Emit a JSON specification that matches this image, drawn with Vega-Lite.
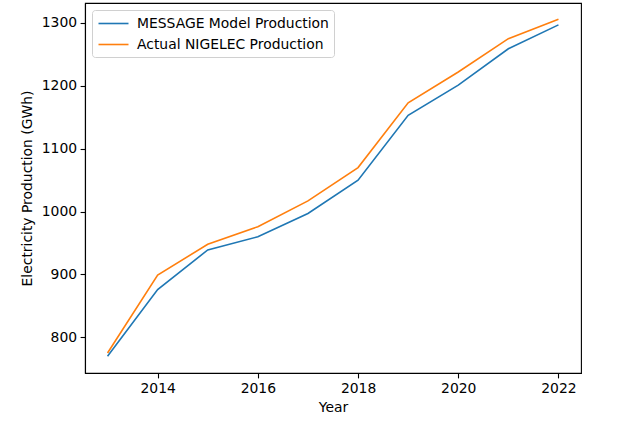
{
  "$schema": "https://vega.github.io/schema/vega-lite/v6.json",
  "width": 496,
  "height": 370,
  "autosize": {"type": "none"},
  "padding": {"left": 85, "top": 3, "right": 46, "bottom": 53},
  "background": "white",
  "config": {
    "font": "DejaVu Sans",
    "view": {"stroke": "black", "strokeWidth": 1.1},
    "axis": {
      "grid": false,
      "domainColor": "black",
      "domainWidth": 1.1,
      "tickColor": "black",
      "tickWidth": 1.1,
      "tickSize": 4.9,
      "labelPadding": 3.5,
      "labelFont": "DejaVu Sans",
      "labelFontSize": 13.9,
      "labelColor": "black",
      "titleFont": "DejaVu Sans",
      "titleFontSize": 13.9,
      "titleFontWeight": "normal",
      "titleColor": "black"
    }
  },
  "data": {
    "values": [
      {"year": 2013, "series": "MESSAGE Model Production", "value": 770},
      {"year": 2014, "series": "MESSAGE Model Production", "value": 876},
      {"year": 2015, "series": "MESSAGE Model Production", "value": 939},
      {"year": 2016, "series": "MESSAGE Model Production", "value": 960},
      {"year": 2017, "series": "MESSAGE Model Production", "value": 997},
      {"year": 2018, "series": "MESSAGE Model Production", "value": 1050},
      {"year": 2019, "series": "MESSAGE Model Production", "value": 1153},
      {"year": 2020, "series": "MESSAGE Model Production", "value": 1201},
      {"year": 2021, "series": "MESSAGE Model Production", "value": 1259},
      {"year": 2022, "series": "MESSAGE Model Production", "value": 1297},
      {"year": 2013, "series": "Actual NIGELEC Production", "value": 775},
      {"year": 2014, "series": "Actual NIGELEC Production", "value": 899},
      {"year": 2015, "series": "Actual NIGELEC Production", "value": 948},
      {"year": 2016, "series": "Actual NIGELEC Production", "value": 976},
      {"year": 2017, "series": "Actual NIGELEC Production", "value": 1017},
      {"year": 2018, "series": "Actual NIGELEC Production", "value": 1070},
      {"year": 2019, "series": "Actual NIGELEC Production", "value": 1173},
      {"year": 2020, "series": "Actual NIGELEC Production", "value": 1222},
      {"year": 2021, "series": "Actual NIGELEC Production", "value": 1275},
      {"year": 2022, "series": "Actual NIGELEC Production", "value": 1306}
    ]
  },
  "mark": {"type": "line", "strokeWidth": 1.6, "clip": true},
  "encoding": {
    "x": {
      "field": "year",
      "type": "quantitative",
      "title": "Year",
      "scale": {"domain": [2012.55, 2022.45], "nice": false, "zero": false},
      "axis": {"values": [2014, 2016, 2018, 2020, 2022], "format": "d", "titlePadding": 5}
    },
    "y": {
      "field": "value",
      "type": "quantitative",
      "title": "Electricity Production (GWh)",
      "scale": {"domain": [743.25, 1331.75], "nice": false, "zero": false},
      "axis": {"values": [800, 900, 1000, 1100, 1200, 1300], "format": "d", "titlePadding": 7}
    },
    "color": {
      "field": "series",
      "type": "nominal",
      "scale": {
        "domain": ["MESSAGE Model Production", "Actual NIGELEC Production"],
        "range": ["#1f77b4", "#ff7f0e"]
      },
      "legend": {
        "title": null,
        "orient": "none",
        "legendX": 7,
        "legendY": 7,
        "symbolType": "M-2,0H2",
        "symbolSize": 225,
        "symbolOffset": 8,
        "symbolStrokeWidth": 1.6,
        "labelFont": "DejaVu Sans",
        "labelFontSize": 13.9,
        "labelColor": "black",
        "labelLimit": 0,
        "labelOffset": 15,
        "rowPadding": 5,
        "padding": 5,
        "fillColor": "white",
        "strokeColor": "#d0d0d0",
        "cornerRadius": 3
      }
    },
    "order": {"field": "year"}
  }
}
